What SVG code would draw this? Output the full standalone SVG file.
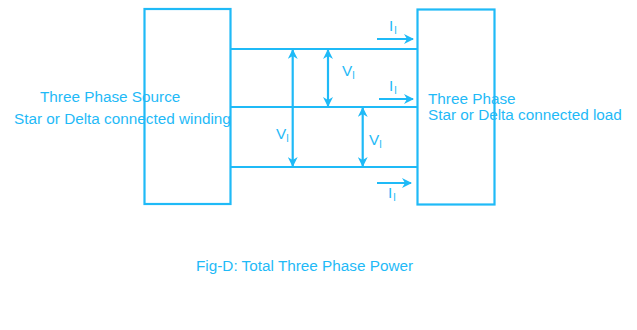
<svg xmlns="http://www.w3.org/2000/svg" width="637" height="330" viewBox="0 0 637 330">
<style>
.s{fill:none;stroke:#1fbaf7;stroke-width:2.2}
.t{font-family:"Liberation Sans",Arial,sans-serif;font-size:15.3px;fill:#1fbaf7}
.sub{font-size:11px}
</style>
<defs>
<marker id="ah" viewBox="0 0 10 10" refX="9" refY="5" markerWidth="10" markerHeight="10" markerUnits="userSpaceOnUse" orient="auto-start-reverse">
<path d="M0,0 L10,5 L0,10 L3,5 Z" fill="#1fbaf7"/>
</marker>
</defs>
<rect width="637" height="330" fill="#fff"/>
<g id="source">
<rect class="s" x="144.5" y="9" width="86" height="195"/>
<text class="t" x="40" y="102">Three Phase Source</text>
<text class="t" x="14" y="124">Star or Delta connected winding</text>
</g>
<g id="load">
<rect class="s" x="417.5" y="9.5" width="77" height="195"/>
<text class="t" x="428" y="104">Three Phase</text>
<text class="t" x="428" y="119.5">Star or Delta connected load</text>
</g>
<g id="connectors">
<line class="s" x1="231" y1="49" x2="417" y2="49"/>
<line class="s" x1="231" y1="107" x2="417" y2="107"/>
<line class="s" x1="231" y1="167" x2="417" y2="167"/>
<line class="s" x1="292.7" y1="50" x2="292.7" y2="166" marker-start="url(#ah)" marker-end="url(#ah)"/>
<line class="s" x1="328" y1="50" x2="328" y2="106" marker-start="url(#ah)" marker-end="url(#ah)"/>
<line class="s" x1="362.7" y1="108" x2="362.7" y2="166" marker-start="url(#ah)" marker-end="url(#ah)"/>
<line class="s" x1="377" y1="39" x2="413" y2="39" marker-end="url(#ah)"/>
<line class="s" x1="379" y1="99" x2="413" y2="99" marker-end="url(#ah)"/>
<line class="s" x1="377" y1="183" x2="411" y2="183" marker-end="url(#ah)"/>
</g>
<g id="labels">
<text class="t" x="389" y="31">I<tspan class="sub" dx="1" dy="3">l</tspan></text>
<text class="t" x="389" y="91">I<tspan class="sub" dx="1" dy="3">l</tspan></text>
<text class="t" x="388" y="198">I<tspan class="sub" dx="1" dy="3">l</tspan></text>
<text class="t" x="342" y="76">V<tspan class="sub" dx="0" dy="3">l</tspan></text>
<text class="t" x="276" y="139">V<tspan class="sub" dx="0" dy="3">l</tspan></text>
<text class="t" x="369" y="145">V<tspan class="sub" dx="0" dy="3">l</tspan></text>
</g>
<text class="t" x="196" y="271">Fig-D: Total Three Phase Power</text>
</svg>
